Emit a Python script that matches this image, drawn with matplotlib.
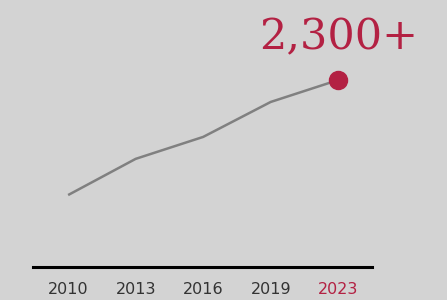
import numpy as np
import matplotlib.pyplot as plt

# values
years = ["2010", "2013", "2016", "2019", "2023"]
values = [885, 1330, 1600, 2030, 2300]
label_text = "2,300+"

bg = "#d3d3d3"
red = "#b32143"
grey = "#808080"

fig = plt.figure(figsize=(4.47, 3.0), dpi=100, facecolor=bg)
ax = fig.add_axes([33 / 447, 33 / 300, 339 / 447, 267 / 300], facecolor=bg)

x = np.arange(len(years))
ax.plot(x, values, color=grey, lw=1.8, solid_capstyle="butt", zorder=2)
ax.plot(x[-1], values[-1], "o", ms=13, color=red, zorder=3)

ax.annotate(label_text, xy=(x[-1], values[-1]), xytext=(0, 31),
            textcoords="offset points", ha="center", va="center",
            fontsize=31, family="DejaVu Serif", color=red)

ax.set_xlim(-0.52, 4.5)
ax.set_ylim(0, 3284)
ax.set_xticks(x)
ax.set_xticklabels(years, fontsize=11.5, color="#333333")
ax.get_xticklabels()[-1].set_color(red)
ax.tick_params(axis="x", length=0, pad=10.5)
ax.set_yticks([])

for s in ["top", "left", "right"]:
    ax.spines[s].set_visible(False)
ax.spines["bottom"].set_linewidth(2.2)
ax.spines["bottom"].set_color("black")

fig.savefig("out.png", dpi=100, facecolor=bg)
